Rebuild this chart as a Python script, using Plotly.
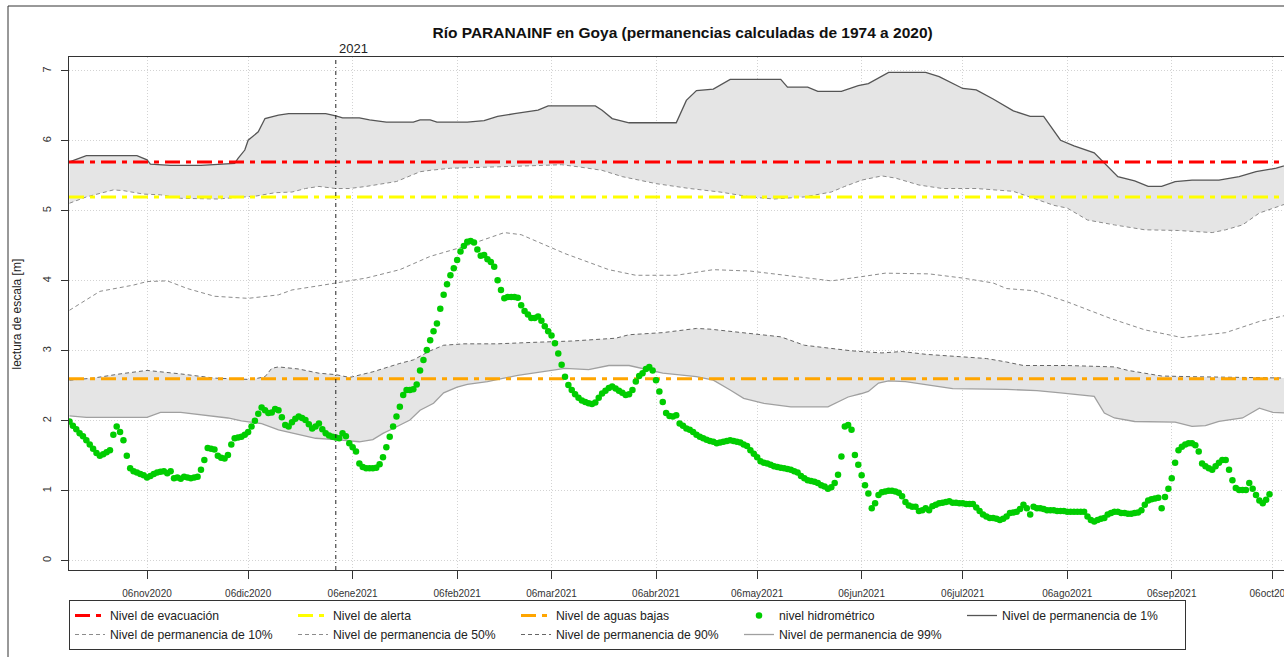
import pandas as pd
import plotly.graph_objects as go

INICIO = pd.Timestamp("2020-10-14")

# nivel hidrométrico diario desde INICIO [m]
nivel = [
    1.99, 1.93, 1.88, 1.82, 1.78, 1.72, 1.66, 1.60, 1.54, 1.50,
    1.52, 1.55, 1.58, 1.80, 1.92, 1.84, 1.72, 1.50, 1.32, 1.28,
    1.26, 1.24, 1.22, 1.19, 1.21, 1.24, 1.26, 1.27, 1.28, 1.25,
    1.28, 1.18, 1.19, 1.17, 1.20, 1.19, 1.18, 1.19, 1.20, 1.30,
    1.44, 1.61, 1.60, 1.59, 1.50, 1.47, 1.46, 1.51, 1.66, 1.75,
    1.76, 1.77, 1.80, 1.84, 1.92, 2.00, 2.10, 2.19, 2.15, 2.11,
    2.12, 2.17, 2.15, 2.05, 1.94, 1.92, 1.98, 2.03, 2.06, 2.04,
    2.01, 1.95, 1.89, 1.92, 1.96, 1.88, 1.82, 1.79, 1.77, 1.76,
    1.75, 1.82, 1.78, 1.68, 1.62, 1.56, 1.39, 1.34, 1.32, 1.32,
    1.32, 1.33, 1.38, 1.48, 1.62, 1.77, 1.92, 2.06, 2.20, 2.37,
    2.44, 2.44, 2.45, 2.52, 2.72, 2.87, 3.01, 3.15, 3.28, 3.39,
    3.60, 3.80, 3.95, 4.08, 4.18, 4.30, 4.42, 4.50, 4.56, 4.57,
    4.55, 4.45, 4.36, 4.37, 4.31, 4.27, 4.20, 4.01, 3.87, 3.75,
    3.77, 3.77, 3.77, 3.76, 3.65, 3.57, 3.52, 3.47, 3.47, 3.49,
    3.43, 3.35, 3.28, 3.22, 3.11, 2.96, 2.80, 2.63, 2.51, 2.44,
    2.38, 2.33, 2.29, 2.27, 2.25, 2.24, 2.26, 2.33, 2.39, 2.43,
    2.47, 2.49, 2.46, 2.43, 2.40, 2.37, 2.38, 2.44, 2.56, 2.64,
    2.68, 2.74, 2.77, 2.72, 2.58, 2.42, 2.27, 2.11, 2.07, 2.06,
    2.08, 1.96, 1.93, 1.89, 1.87, 1.84, 1.80, 1.77, 1.75, 1.73,
    1.71, 1.70, 1.68, 1.69, 1.70, 1.71, 1.72, 1.71, 1.70, 1.69,
    1.66, 1.64, 1.58, 1.53, 1.48, 1.42, 1.40, 1.39, 1.37, 1.35,
    1.34, 1.33, 1.32, 1.31, 1.30, 1.28, 1.26, 1.21, 1.18, 1.15,
    1.14, 1.13, 1.11, 1.08, 1.06, 1.03, 1.05, 1.11, 1.23, 1.49,
    1.92, 1.94, 1.87, 1.51, 1.37, 1.22, 1.08, 0.96, 0.75, 0.82,
    0.94, 0.98, 0.99, 1.00, 1.00, 0.99, 0.97, 0.92, 0.84, 0.79,
    0.77, 0.77, 0.71, 0.72, 0.75, 0.72, 0.78, 0.80, 0.82, 0.83,
    0.84, 0.85, 0.83, 0.83, 0.82, 0.82, 0.81, 0.81, 0.81, 0.76,
    0.71, 0.66, 0.63, 0.61, 0.61, 0.60, 0.58, 0.60, 0.63, 0.68,
    0.69, 0.70, 0.74, 0.80, 0.75, 0.66, 0.77, 0.75, 0.75, 0.74,
    0.72, 0.72, 0.72, 0.71, 0.71, 0.71, 0.70, 0.70, 0.70, 0.70,
    0.70, 0.70, 0.63, 0.58, 0.56, 0.58, 0.60, 0.61, 0.66, 0.68,
    0.70, 0.70, 0.68, 0.68, 0.67, 0.67, 0.68, 0.69, 0.72, 0.80,
    0.86, 0.88, 0.89, 0.90, 0.75, 0.91, 1.03, 1.18, 1.40, 1.58,
    1.63, 1.66, 1.68, 1.68, 1.65, 1.56, 1.39, 1.35, 1.32, 1.30,
    1.35, 1.40, 1.44, 1.44, 1.30, 1.15, 1.04, 1.01, 1.01, 1.01,
    1.11, 1.03, 0.94, 0.86, 0.82, 0.87, 0.95,
]

# permanencias: días desde INICIO y lectura [m]
p01_dia = [0, 5, 20, 23, 24, 30, 39, 49, 50, 52, 53, 56, 58, 62, 65, 76, 79, 81, 86, 89,
           94, 102, 104, 107, 109, 118, 123, 127, 132, 139, 142, 156, 158, 161, 166, 180, 183, 186, 191, 196,
           211, 213, 219, 222, 229, 234, 237, 243, 254, 258, 265, 269, 274, 280, 285, 289, 294, 298, 304, 307,
           311, 316, 320, 324, 328, 333, 341, 347, 352, 358, 362]
p01_val = [5.70, 5.79, 5.79, 5.73, 5.67, 5.65, 5.65, 5.68, 5.75, 5.87, 6.01, 6.13, 6.32, 6.37, 6.39, 6.39, 6.36, 6.33, 6.33, 6.30,
           6.27, 6.27, 6.30, 6.30, 6.27, 6.27, 6.29, 6.35, 6.39, 6.44, 6.50, 6.50, 6.44, 6.32, 6.26, 6.26, 6.58, 6.72, 6.74, 6.88,
           6.88, 6.77, 6.77, 6.71, 6.71, 6.79, 6.82, 6.98, 6.98, 6.92, 6.75, 6.73, 6.60, 6.43, 6.35, 6.35, 6.01, 5.93, 5.83, 5.68,
           5.49, 5.43, 5.35, 5.35, 5.42, 5.44, 5.44, 5.49, 5.56, 5.61, 5.67]

p10_dia = [0, 5, 13, 16, 22, 27, 33, 44, 49, 55, 61, 66, 70, 74, 79, 83, 88, 97, 101, 104,
           107, 113, 127, 146, 151, 158, 164, 174, 184, 193, 202, 209, 218, 226, 230, 235, 241, 245, 252, 259,
           269, 280, 286, 292, 296, 302, 310, 319, 329, 339, 343, 348, 353, 362]
p10_val = [5.11, 5.20, 5.30, 5.29, 5.24, 5.23, 5.18, 5.17, 5.19, 5.21, 5.26, 5.27, 5.32, 5.35, 5.32, 5.32, 5.35, 5.42, 5.50, 5.56,
           5.58, 5.61, 5.63, 5.66, 5.63, 5.58, 5.49, 5.39, 5.32, 5.27, 5.20, 5.17, 5.20, 5.27, 5.35, 5.44, 5.50, 5.47, 5.37, 5.32,
           5.32, 5.28, 5.18, 5.08, 5.04, 4.87, 4.80, 4.73, 4.72, 4.69, 4.73, 4.80, 4.97, 5.12]

p50_dia = [0, 9, 19, 23, 29, 35, 43, 53, 62, 66, 74, 79, 88, 98, 107, 117, 129, 134, 147, 160,
           168, 180, 191, 202, 216, 226, 235, 242, 255, 265, 274, 278, 286, 296, 309, 319, 330, 343, 353, 362]
p50_val = [3.58, 3.85, 3.94, 3.99, 4.00, 3.89, 3.78, 3.75, 3.80, 3.87, 3.93, 3.97, 4.04, 4.16, 4.35, 4.49, 4.69, 4.66, 4.39, 4.16,
           4.08, 4.08, 4.16, 4.14, 4.06, 4.00, 4.06, 4.11, 4.10, 4.04, 3.97, 3.89, 3.86, 3.70, 3.46, 3.30, 3.19, 3.26, 3.42, 3.52]

p90_dia = [0, 7, 15, 23, 33, 43, 54, 58, 60, 62, 68, 74, 79, 83, 84, 90, 98, 102, 107, 111,
           117, 127, 137, 149, 162, 166, 176, 186, 190, 201, 211, 218, 226, 232, 241, 247, 254, 264, 272, 278,
           283, 296, 310, 314, 324, 333, 343, 362]
p90_val = [2.58, 2.61, 2.67, 2.72, 2.67, 2.61, 2.59, 2.63, 2.75, 2.77, 2.74, 2.68, 2.66, 2.62, 2.63, 2.70, 2.82, 2.87, 3.00, 3.08,
           3.10, 3.10, 3.12, 3.14, 3.18, 3.23, 3.26, 3.32, 3.31, 3.25, 3.20, 3.08, 3.04, 3.00, 2.97, 2.99, 2.95, 2.92, 2.89, 2.84,
           2.79, 2.79, 2.77, 2.72, 2.64, 2.63, 2.62, 2.61]

p99_dia = [0, 5, 23, 27, 33, 41, 47, 51, 57, 62, 68, 73, 79, 86, 90, 93, 96, 101, 104, 108,
           111, 115, 118, 124, 133, 142, 147, 154, 160, 166, 176, 186, 191, 196, 200, 206, 214, 225, 231, 235,
           237, 240, 243, 248, 256, 262, 278, 287, 294, 304, 307, 310, 316, 328, 333, 337, 341, 348, 353, 357,
           362]
p99_val = [2.07, 2.05, 2.05, 2.12, 2.12, 2.08, 2.04, 2.00, 1.96, 1.87, 1.80, 1.75, 1.73, 1.70, 1.73, 1.82, 1.89, 2.01, 2.15, 2.25,
           2.40, 2.48, 2.52, 2.56, 2.65, 2.72, 2.75, 2.73, 2.79, 2.79, 2.68, 2.63, 2.58, 2.44, 2.32, 2.25, 2.20, 2.20, 2.34, 2.39,
           2.42, 2.54, 2.57, 2.56, 2.50, 2.46, 2.45, 2.43, 2.40, 2.35, 2.11, 2.04, 1.99, 1.98, 1.92, 1.93, 1.99, 2.04, 2.18, 2.12,
           2.11]

NIVEL_EVACUACION = 5.7
NIVEL_ALERTA = 5.2
NIVEL_AGUAS_BAJAS = 2.6

tick_fechas = ["2020-11-06", "2020-12-06", "2021-01-06", "2021-02-06", "2021-03-06", "2021-04-06",
               "2021-05-06", "2021-06-06", "2021-07-06", "2021-08-06", "2021-09-06", "2021-10-06"]
tick_textos = ["06nov2020", "06dic2020", "06ene2021", "06feb2021", "06mar2021", "06abr2021",
               "06may2021", "06jun2021", "06jul2021", "06ago2021", "06sep2021", "06oct2021"]

X_RANGO = ["2020-10-13 20:24", "2021-10-09 07:12"]
Y_RANGO = [-0.133, 7.2]

FONT = "Liberation Sans, Arial, Helvetica, sans-serif"
INK = "#333333"
BAND = "#e5e5e5"


def fechas(dias):
    return INICIO + pd.to_timedelta(dias, unit="D")


f01, f10, f50, f90, f99 = (fechas(d) for d in (p01_dia, p10_dia, p50_dia, p90_dia, p99_dia))
f_nivel = pd.date_range(INICIO, periods=len(nivel), freq="D")

fig = go.Figure()

# bandas sombreadas (1%-10% y 90%-99%)
fig.add_trace(go.Scatter(
    x=list(f01) + list(f10[::-1]), y=p01_val + p10_val[::-1], fill="toself",
    fillcolor=BAND, line=dict(width=0), mode="lines", showlegend=False, hoverinfo="skip",
))
fig.add_trace(go.Scatter(
    x=list(f90) + list(f99[::-1]), y=p90_val + p99_val[::-1], fill="toself",
    fillcolor=BAND, line=dict(width=0), mode="lines", showlegend=False, hoverinfo="skip",
))

# curvas de permanencia
perm = [
    (f01, p01_val, "Nivel de permanencia de 1%", "#555555", 1.3, "solid", 5),
    (f10, p10_val, "Nivel de permanencia de 10%", "#8c8c8c", 1, "4px,3px", 6),
    (f50, p50_val, "Nivel de permanencia de 50%", "#8c8c8c", 1, "4px,3px", 7),
    (f90, p90_val, "Nivel de permanencia de 90%", "#666666", 1, "4px,3px", 8),
    (f99, p99_val, "Nivel de permanencia de 99%", "#a0a0a0", 1.3, "solid", 9),
]
for x, y, name, color, width, dash, rank in perm:
    fig.add_trace(go.Scatter(
        x=x, y=y, mode="lines", name=name, legendrank=rank,
        legendwidth=178 if rank == 5 else None,
        line=dict(color=color, width=width, dash=dash),
    ))

# niveles de referencia
refs = [
    (NIVEL_EVACUACION, "Nivel de evacuación", "#ff0000", 1),
    (NIVEL_ALERTA, "Nivel de alerta", "#ffff00", 2),
    (NIVEL_AGUAS_BAJAS, "Nivel de aguas bajas", "#ffa500", 3),
]
for val, name, color, rank in refs:
    fig.add_trace(go.Scatter(
        x=X_RANGO, y=[val, val], mode="lines", name=name, legendrank=rank,
        line=dict(color=color, width=3, dash="15px,6px,5px,6px"),
    ))

fig.add_trace(go.Scatter(
    x=f_nivel, y=nivel, mode="markers", name="nivel hidrométrico", legendrank=4,
    marker=dict(color="#00cd00", size=6.5),
))

# inicio de año
fig.add_shape(type="line", xref="x", yref="paper", x0="2021-01-01", x1="2021-01-01", y0=0, y1=1,
              line=dict(color="#222222", width=1, dash="4px,3px,1px,3px"))
fig.add_annotation(x="2021-01-01", xref="x", y=1.0175, yref="paper", text="2021", showarrow=False,
                   xanchor="left", yanchor="middle", xshift=1, font=dict(size=13, color="#222222"))

# marco exterior
fig.add_shape(type="rect", xref="paper", yref="paper", x0=-0.0502, x1=1.01, y0=-0.2, y1=1.0994,
              line=dict(color=INK, width=1), layer="above")

fig.add_annotation(x=-0.0428, xref="paper", y=0.5, yref="paper", text="lectura de escala [m]",
                   textangle=-90, showarrow=False, xanchor="center", yanchor="middle",
                   font=dict(size=12, color="#222222"))

fig.update_layout(
    width=1284, height=657,
    margin=dict(l=69, r=0, t=57, b=87, autoexpand=False),
    paper_bgcolor="white", plot_bgcolor="white",
    font=dict(family=FONT, color="#222222"),
    title=dict(text="<b>Río PARANAINF en Goya (permanencias calculadas de 1974 a 2020)</b>",
               x=0.505, xref="paper", xanchor="center", y=1 - 33 / 657, yref="container",
               yanchor="middle", font=dict(size=15.5, color="#111111")),
    legend=dict(orientation="h", x=0, xanchor="left", y=-0.0585, yanchor="top",
                bordercolor=INK, borderwidth=1, font=dict(size=12.2, color="#222222"),
                entrywidth=173, traceorder="normal", bgcolor="rgba(0,0,0,0)"),
)
fig.update_xaxes(
    type="date", range=X_RANGO, tickvals=tick_fechas, ticktext=tick_textos,
    ticks="outside", ticklen=8, tickcolor=INK, tickfont=dict(size=10, color="#333333"),
    ticklabelstandoff=6, ticklabeloverflow="allow", automargin=False,
    showgrid=True, gridcolor="#d3d3d3", griddash="1px,2px", gridwidth=1,
    showline=True, linecolor=INK, mirror=True, zeroline=False,
)
fig.update_yaxes(
    range=Y_RANGO, tickvals=list(range(8)), tickangle=-90,
    ticks="outside", ticklen=7, tickcolor=INK, tickfont=dict(size=11, color="#333333"),
    ticklabelstandoff=6, automargin=False,
    showgrid=True, gridcolor="#d3d3d3", griddash="1px,2px", gridwidth=1,
    showline=True, linecolor=INK, mirror=True, zeroline=False,
)

# sin margen del body para que la figura ocupe exactamente la ventana
fig.write_html("out.html", config={"displayModeBar": False},
               post_script="document.body.style.margin='0';"
                           "document.documentElement.style.overflow='hidden';")
